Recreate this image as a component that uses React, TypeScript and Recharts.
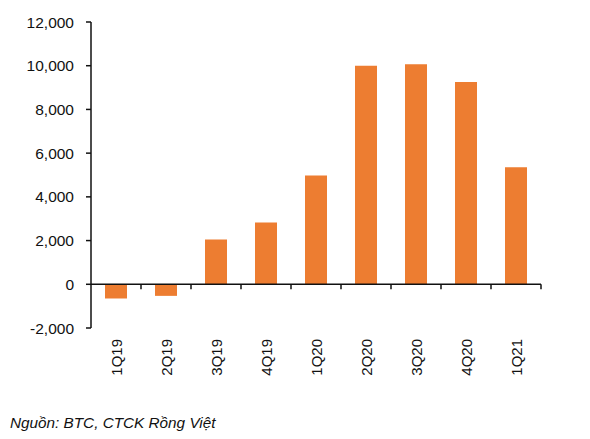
import React from 'react';
import { BarChart, Bar, XAxis, YAxis, ReferenceLine } from 'recharts';

const quarters = ['1Q19', '2Q19', '3Q19', '4Q19', '1Q20', '2Q20', '3Q20', '4Q20', '1Q21'];
const profit = [-650, -530, 2050, 2830, 4980, 10000, 10070, 9260, 5350];
const yTicks = [-2000, 0, 2000, 4000, 6000, 8000, 10000, 12000];

const data = quarters.map((q, i) => ({ quarter: q, value: profit[i] }));

const FONT = '"Liberation Sans", Arial, sans-serif';

const QuarterTick = (props: any) => {
  const { x, y, payload } = props;
  return (
    <text
      x={x}
      y={y}
      transform={`rotate(-90, ${x}, ${y})`}
      textAnchor="end"
      dominantBaseline="central"
      fontSize={15}
      fontFamily={FONT}
      fill="#111"
    >
      {payload.value}
    </text>
  );
};

// zero line with tick marks at the category boundaries
const ZeroAxis = (props: any) => {
  const { x1, x2, y1 } = props;
  const step = (x2 - x1) / quarters.length;
  return (
    <g>
      <line x1={x1} x2={x2} y1={y1} y2={y1} stroke="#111" strokeWidth={1.5} />
      {quarters.map((_, i) => (
        <line
          key={i}
          x1={x1 + step * (i + 1)}
          x2={x1 + step * (i + 1)}
          y1={y1}
          y2={y1 + 5}
          stroke="#111"
          strokeWidth={1.5}
        />
      ))}
    </g>
  );
};

export default function App() {
  return (
    <div style={{ position: 'absolute', left: 0, top: 0, width: 590, height: 439, background: '#fff' }}>
      <BarChart
        width={590}
        height={400}
        data={data}
        margin={{ top: 22, right: 49, left: 0, bottom: 22 }}
        barCategoryGap="28%"
      >
        <XAxis
          dataKey="quarter"
          axisLine={false}
          tickLine={false}
          tickSize={0}
          tickMargin={11}
          height={50}
          interval={0}
          tick={<QuarterTick />}
        />
        <YAxis
          width={91}
          domain={[-2000, 12000]}
          ticks={yTicks}
          interval={0}
          axisLine={{ stroke: '#111', strokeWidth: 1.5 }}
          tickLine={{ stroke: '#111', strokeWidth: 1.5 }}
          tickSize={5}
          tickMargin={12}
          tickFormatter={(v: number) => v.toLocaleString('en-US')}
          tick={{ fontSize: 15.5, fontFamily: FONT, fill: '#111' }}
        />
        <Bar dataKey="value" fill="#ED7D31" isAnimationActive={false} />
        <ReferenceLine y={0} shape={<ZeroAxis />} />
      </BarChart>
      <div
        style={{
          position: 'absolute',
          left: 10,
          top: 414,
          fontFamily: FONT,
          fontStyle: 'italic',
          fontSize: 15.3,
          color: '#111',
        }}
      >
        Nguồn: BTC, CTCK Rồng Việt
      </div>
    </div>
  );
}
